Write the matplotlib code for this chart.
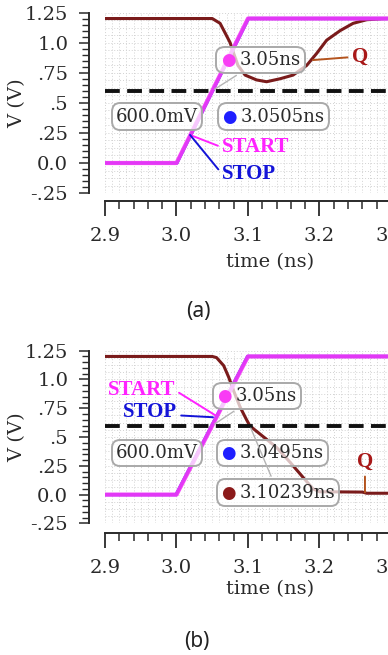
import numpy as np
import matplotlib
matplotlib.use("Agg")
import matplotlib.pyplot as plt
from matplotlib.ticker import MultipleLocator
from matplotlib.offsetbox import AnnotationBbox, HPacker, TextArea

# ---- data ----
# START input: rising ramp (same in both panels)
start_t = [2.9, 3.0, 3.1, 3.4]
start_v = [0.0, 0.0, 1.2, 1.2]
# STOP input: the same ramp, shifted by +/- 0.5 ps
stop_t_a = [2.9, 3.0005, 3.1005, 3.4]
stop_t_b = [2.9, 2.9995, 3.0995, 3.4]
stop_v = [0.0, 0.0, 1.2, 1.2]

# Q output, panel (a): dips and recovers
q_t_a = [2.9, 3.05, 3.061, 3.068, 3.075, 3.080, 3.086, 3.096, 3.112, 3.126,
         3.145, 3.163, 3.182, 3.196, 3.21, 3.229, 3.247, 3.266, 3.29, 3.4]
q_v_a = [1.2, 1.2, 1.16, 1.08, 1.0, 0.91, 0.81, 0.73, 0.69, 0.675,
         0.70, 0.73, 0.81, 0.91, 1.02, 1.10, 1.16, 1.19, 1.2, 1.2]

# Q output, panel (b): falls to zero
q_t_b = [2.9, 3.05, 3.056, 3.066, 3.073, 3.08, 3.089, 3.098, 3.1024, 3.11,
         3.124, 3.14, 3.159, 3.177, 3.191, 3.2, 3.26, 3.266, 3.4]
q_v_b = [1.2, 1.2, 1.19, 1.12, 1.02, 0.9, 0.76, 0.65, 0.6, 0.56,
         0.49, 0.41, 0.28, 0.15, 0.05, 0.025, 0.022, 0.012, 0.012]

threshold = 0.6
threshold_label = "600.0mV"
cross_a = {"start": 3.05, "stop": 3.0505}
cross_b = {"start": 3.05, "stop": 3.0495, "q": 3.10239}

yticks = [-0.25, 0.0, 0.25, 0.5, 0.75, 1.0, 1.25]
ytick_labels = ["-.25", "0.0", ".25", ".5", ".75", "1.0", "1.25"]
xticks = [2.9, 3.0, 3.1, 3.2, 3.3]
xtick_labels = ["2.9", "3.0", "3.1", "3.2", "3.3"]

MAGENTA = "#f93cf5"
BLUE = "#1e1eff"
QCOL = "#7a1b1b"
TXT = "#2a2a2a"
SERIF = "DejaVu Serif"


def style_axes(ax, bottom_out):
    ax.set_xlim(2.9, 3.4)
    ax.set_ylim(-0.25, 1.25)
    for s in ("top", "right"):
        ax.spines[s].set_visible(False)
    ax.spines["left"].set_position(("outward", 11.5))
    ax.spines["bottom"].set_position(("outward", bottom_out))
    for s in ("left", "bottom"):
        ax.spines[s].set_linewidth(1.4)
        ax.spines[s].set_color(TXT)
    ax.set_yticks(yticks)
    ax.set_yticklabels(ytick_labels)
    ax.set_xticks(xticks)
    ax.set_xticklabels(xtick_labels)
    ax.yaxis.set_minor_locator(MultipleLocator(0.05))
    ax.xaxis.set_minor_locator(MultipleLocator(0.02))
    ax.tick_params(axis="y", which="major", length=7, width=1.1, pad=8, color=TXT)
    ax.tick_params(axis="y", which="minor", length=5, width=1.0, color=TXT)
    ax.tick_params(axis="x", which="major", length=11, width=1.3, pad=8, color=TXT)
    ax.tick_params(axis="x", which="minor", length=6, width=1.1, color=TXT)
    for lab in ax.get_xticklabels() + ax.get_yticklabels():
        lab.set_family(SERIF)
        lab.set_fontsize(14)
        lab.set_color(TXT)
    ax.set_xlabel("time (ns)", family=SERIF, fontsize=14, color=TXT, va="center")
    ax.set_ylabel("V (V)", family=SERIF, fontsize=14, color=TXT, va="center")
    ax.xaxis.set_label_coords(0.462, -0.38)
    ax.yaxis.set_label_coords(-0.246, 0.5)
    # dense dotted grid, like the simulator view
    for gx in np.arange(2.9, 3.4, 0.01):
        ax.axvline(gx, color="#d2d2d2", lw=0.7, ls=(0, (1, 2)), zorder=0)
    for gy in np.arange(-0.25, 1.26, 0.0625):
        ax.axhline(gy, color="#d2d2d2", lw=0.7, ls=(0, (1, 2)), zorder=0)


def callout(ax, xy, box_xy, text, dot=None, leader=False):
    items = []
    if dot is not None:
        items.append(TextArea("\u25cf", textprops=dict(color=dot, fontsize=12,
                                                       family="DejaVu Sans")))
    items.append(TextArea(text, textprops=dict(color=TXT, fontsize=13, family=SERIF)))
    pack = HPacker(children=items, align="center", pad=0, sep=3)
    arrow = dict(arrowstyle="-", color="#b4b4b4", lw=1.0) if leader else None
    ab = AnnotationBbox(pack, xy, xybox=box_xy, xycoords="data", boxcoords="data",
                        frameon=True, pad=0.2, annotation_clip=False,
                        bboxprops=dict(boxstyle="round,pad=0.3,rounding_size=0.6",
                                       fc=(1, 1, 1, 0.72), ec="#a9a9a9", lw=1.4),
                        arrowprops=arrow, zorder=6)
    ax.add_artist(ab)


def label(ax, text, xy, xytext, color, ha="left", relpos=(0, 0.5), lcolor=None):
    ax.annotate(text, xy=xy, xytext=xytext, ha=ha, va="center", color=color,
                fontsize=15, fontweight="bold", family="Liberation Serif", zorder=7,
                arrowprops=dict(arrowstyle="-", color=lcolor or color, lw=1.4,
                                relpos=relpos, shrinkA=1, shrinkB=0))


def draw_waves(ax, stop_t, q_t, q_v):
    ax.plot(stop_t, stop_v, color=BLUE, lw=2.4, zorder=3)
    ax.plot(start_t, start_v, color=MAGENTA, lw=3.0, alpha=0.9, zorder=3)
    ax.plot(q_t, q_v, color=QCOL, lw=2.2, zorder=2)
    ax.axhline(threshold, color="#111111", lw=2.8, dashes=(3.8, 1.9), zorder=4)


fig = plt.figure(figsize=(3.88, 6.55), dpi=100)

# ---------------- panel (a) ----------------
ax1 = fig.add_axes([0.2706, 0.7052, 0.9214, 0.2757])
style_axes(ax1, 5.5)
draw_waves(ax1, stop_t_a, q_t_a, q_v_a)
callout(ax1, (cross_a["start"], threshold), (3.1175, 0.855),
        f"{cross_a['start']:.2f}ns", dot=MAGENTA, leader=True)
callout(ax1, (2.973, 0.386), (2.973, 0.386), threshold_label)
callout(ax1, (3.136, 0.386), (3.136, 0.386), f"{cross_a['stop']:.4f}ns", dot=BLUE)
label(ax1, "START", (3.019, 0.233), (3.0636, 0.13), "#ff22ff")
label(ax1, "STOP", (3.019, 0.233), (3.0636, -0.09), "#1414d8")
label(ax1, "Q", (3.191, 0.855), (3.245, 0.88), "#a81818", lcolor="#b4541e")

# ---------------- panel (b) ----------------
ax2 = fig.add_axes([0.2706, 0.2009, 0.9214, 0.2637])
style_axes(ax2, 6.9)
draw_waves(ax2, stop_t_b, q_t_b, q_v_b)
callout(ax2, (cross_b["start"], threshold), (3.113, 0.858),
        f"{cross_b['start']:.2f}ns", dot=MAGENTA, leader=True)
callout(ax2, (2.973, 0.364), (2.973, 0.364), threshold_label)
callout(ax2, (3.134, 0.364), (3.134, 0.364), f"{cross_b['stop']:.4f}ns", dot=BLUE)
callout(ax2, (cross_b["q"], threshold), (3.142, 0.017),
        f"{cross_b['q']:.5f}ns", dot="#8b1a1a", leader=True)
label(ax2, "START", (3.054, 0.69), (2.998, 0.906), "#ff22ff", ha="right", relpos=(1, 0.5))
label(ax2, "STOP", (3.051, 0.672), (3.0007, 0.715), "#1414d8", ha="right", relpos=(1, 0.35))
label(ax2, "Q", (3.2636, 0.02), (3.2636, 0.28), "#a81818", ha="center",
      relpos=(0.5, 0), lcolor="#b4541e")

fig.text(198 / 388, 1 - 312 / 655, "(a)", ha="center", va="center",
         fontsize=15, family="Noto Sans", color="#222222")
fig.text(197 / 388, 1 - 642 / 655, "(b)", ha="center", va="center",
         fontsize=15, family="Noto Sans", color="#222222")

fig.savefig("out.png", dpi=100)
